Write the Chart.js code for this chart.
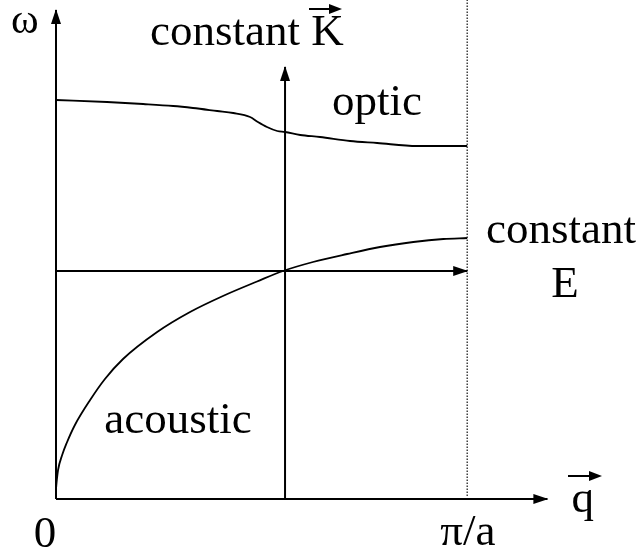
<!DOCTYPE html>
<html>
<head>
<meta charset="utf-8">
<script src="https://cdn.jsdelivr.net/npm/chart.js@4/dist/chart.umd.min.js"></script>
<style>
  html, body { margin: 0; padding: 0; background: #fff; }
  canvas { display: block; }
</style>
</head>
<body>
<canvas id="dispersion" width="640" height="558"></canvas>
<script>
// q in units of pi/a, omega in arbitrary units
var opticQ = [0, 0.124, 0.212, 0.285, 0.333, 0.392, 0.431, 0.472, 0.491, 0.513, 0.538, 0.557, 0.594, 0.642, 0.715, 0.781, 0.878, 1.0];
var opticW = [3.99, 3.97, 3.95, 3.93, 3.91, 3.88, 3.86, 3.82, 3.77, 3.72, 3.68, 3.67, 3.64, 3.62, 3.58, 3.56, 3.53, 3.53];

var acousticQ = [0, 0.002, 0.005, 0.015, 0.026, 0.046, 0.083, 0.119, 0.163, 0.246, 0.326, 0.406, 0.489, 0.552, 0.625, 0.708, 0.788, 0.869, 0.942, 1.0];
var acousticW = [0.1, 0.19, 0.29, 0.44, 0.56, 0.74, 0.99, 1.20, 1.40, 1.67, 1.87, 2.03, 2.175, 2.28, 2.37, 2.45, 2.52, 2.57, 2.60, 2.61];

var constantK = 0.557;   // vertical cut
var constantE = 2.28;    // horizontal cut
var zoneEdge = 1.0;      // pi/a
var qAxisEnd = 1.195;
var wAxisEnd = 4.89;
var kArrowEnd = 4.32;

function pts(xs, ys) {
  return xs.map(function (x, i) { return { x: x, y: ys[i] }; });
}

var SERIF = '"Liberation Serif", "Times New Roman", serif';

// arrowheads at the last point of any dataset flagged with `arrow`
var arrowHeads = {
  id: "arrowHeads",
  afterDatasetsDraw: function (chart) {
    var ctx = chart.ctx;
    chart.data.datasets.forEach(function (ds, i) {
      if (!ds.arrow) return;
      var meta = chart.getDatasetMeta(i);
      var n = meta.data.length;
      var a = meta.data[n - 2], b = meta.data[n - 1];
      var ang = Math.atan2(b.y - a.y, b.x - a.x);
      var len = 14, half = 5;
      ctx.save();
      ctx.translate(b.x, b.y);
      ctx.rotate(ang);
      ctx.beginPath();
      ctx.moveTo(1, 0);
      ctx.lineTo(-len, -half);
      ctx.lineTo(-len, half);
      ctx.closePath();
      ctx.fillStyle = "#000";
      ctx.fill();
      ctx.restore();
    });
  }
};

function vecArrow(ctx, x0, x1, y) {
  ctx.save();
  ctx.strokeStyle = "#000";
  ctx.lineWidth = 2;
  ctx.beginPath();
  ctx.moveTo(x0, y);
  ctx.lineTo(x1 - 10, y);
  ctx.stroke();
  ctx.beginPath();
  ctx.moveTo(x1, y);
  ctx.lineTo(x1 - 13, y - 5);
  ctx.lineTo(x1 - 13, y + 5);
  ctx.closePath();
  ctx.fillStyle = "#000";
  ctx.fill();
  ctx.restore();
}

// text labels of the diagram
var labels = {
  id: "labels",
  afterDraw: function (chart) {
    var ctx = chart.ctx;
    var xs = chart.scales.x;
    ctx.save();
    ctx.fillStyle = "#000";
    ctx.textBaseline = "alphabetic";
    ctx.font = "45px " + SERIF;

    ctx.textAlign = "center";
    ctx.fillText("0", xs.getPixelForValue(0) - 11, 547);
    ctx.textAlign = "left";
    ctx.fillText("\u03c0/a", xs.getPixelForValue(zoneEdge) - 27, 545);
    ctx.fillText("q", xs.getPixelForValue(qAxisEnd) + 24, 512);
    vecArrow(ctx, 568, 602, 476);

    ctx.fillText("constant K", 150, 45);
    vecArrow(ctx, 309, 342, 9);

    ctx.fillText("optic", 332, 115);
    ctx.textAlign = "center";
    ctx.fillText("acoustic", 178, 433);
    ctx.fillText("constant", 561, 243);
    ctx.fillText("E", 565, 297);

    ctx.textAlign = "left";
    ctx.font = "42px " + SERIF;
    ctx.fillText("\u03c9", 11, 33);
    ctx.restore();
  }
};

var line = { showLine: true, pointRadius: 0, borderColor: "#000", borderWidth: 2, fill: false, clip: false };

function ds(data, extra) {
  return Object.assign({}, line, { data: data }, extra || {});
}

new Chart(document.getElementById("dispersion").getContext("2d"), {
  type: "scatter",
  data: {
    datasets: [
      ds(pts([0, qAxisEnd], [0, 0]), { arrow: true }),
      ds(pts([0, 0], [0, wAxisEnd]), { arrow: true }),
      ds(pts([zoneEdge, zoneEdge], [0.03, 5.0]), { borderWidth: 1.3, borderDash: [1.5, 1.5], borderColor: "#222" }),
      ds(pts([constantK, constantK], [0, kArrowEnd]), { arrow: true }),
      ds(pts([0, zoneEdge], [constantE, constantE]), { arrow: true }),
      ds(pts(opticQ, opticW), { borderWidth: 1.8, cubicInterpolationMode: "monotone" }),
      ds(pts(acousticQ, acousticW), { borderWidth: 1.8, cubicInterpolationMode: "monotone" })
    ]
  },
  options: {
    responsive: false,
    animation: false,
    devicePixelRatio: 1,
    layout: { padding: { left: 56, right: 70, top: 9, bottom: 59 } },
    scales: {
      x: { type: "linear", min: 0, max: 1.25, display: false },
      y: { type: "linear", min: 0, max: 4.9, display: false }
    },
    plugins: {
      legend: { display: false },
      tooltip: { enabled: false }
    }
  },
  plugins: [arrowHeads, labels]
});
</script>
</body>
</html>
